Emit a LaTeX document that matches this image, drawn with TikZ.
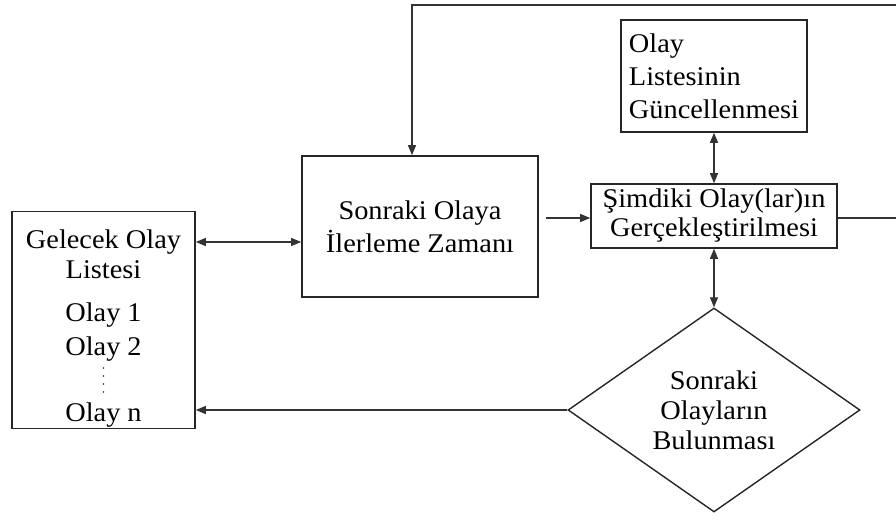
\documentclass[tikz,border=0pt]{standalone}
\usepackage{fontspec}
\setmainfont{Liberation Serif}[FakeStretch=1.05]
\usetikzlibrary{arrows.meta,shapes.geometric}

\tikzset{
  txt/.style={inner sep=0pt, align=center, font=\fontsize{27}{30}\selectfont},
  blk/.style={txt, draw=black!85, line width=1.6pt},
  dec/.style={txt, draw=black!85, line width=1.4pt, shape=diamond, aspect=1.43},
  conn/.style={draw=black!80, line width=1.2pt},
  tip/.style={-{Triangle[length=10pt,width=8pt]}},
  tips/.style={{Triangle[length=10pt,width=8pt]}-{Triangle[length=10pt,width=8pt]}},
}

\begin{document}
\begin{tikzpicture}[x=1pt,y=1pt]
\useasboundingbox (0,0) rectangle (896,519);
\clip (0,0) rectangle (896,519);

% future event list
\node[blk, minimum width=183, minimum height=217] (fel) at (103.5,199) {};
\node[txt, anchor=north] (felhead) at (103.5,289)
  {Gelecek Olay\\Listesi\\[13pt]Olay 1\\[4pt]Olay 2};
\coordinate (feldots) at (103.5,151);
\foreach \k in {0,...,3}
  \fill[black!80] (feldots) ++(0,-8*\k) circle (0.9);
\node[txt, anchor=base] (fellast) at (103.5,97) {Olay n};

% time advance
\node[blk, minimum width=236, minimum height=141,
      font=\fontsize{27}{33}\selectfont] (mid) at (420,292.5)
  {Sonraki Olaya\\İlerleme Zamanı};

% current events
\node[blk, minimum width=246, minimum height=64,
      font=\fontsize{27}{29}\selectfont] (cur) at (714,303)
  {Şimdiki Olay(lar)ın\\Gerçekleştirilmesi};

% list update
\node[blk, minimum width=186, minimum height=112, align=left,
      font=\fontsize{27}{33}\selectfont] (upd) at (714,443)
  {Olay\\Listesinin\\Güncellenmesi};

% next events
\node[dec, minimum width=292, minimum height=204] (nxt) at (714,109)
  {Sonraki\\Olayların\\Bulunması};

\coordinate (rt) at (905,514);

% connectors
\draw[conn,tips] (fel.east |- 0,277) -- (mid.west |- 0,277);
\draw[conn,tip,shorten <=7pt] (mid.east |- 0,301) -- (cur.west |- 0,301);
\draw[conn,tips] (upd.south) -- (cur.north);
\draw[conn,tips] (cur.south) -- (nxt.north);
\draw[conn,tip] (nxt.west) -- (fel.east |- nxt.west);
\draw[conn,tip] (cur.east |- 0,301) -- (rt |- 0,301) -- (rt) -| ([xshift=-8pt]mid.north);
\end{tikzpicture}
\end{document}
